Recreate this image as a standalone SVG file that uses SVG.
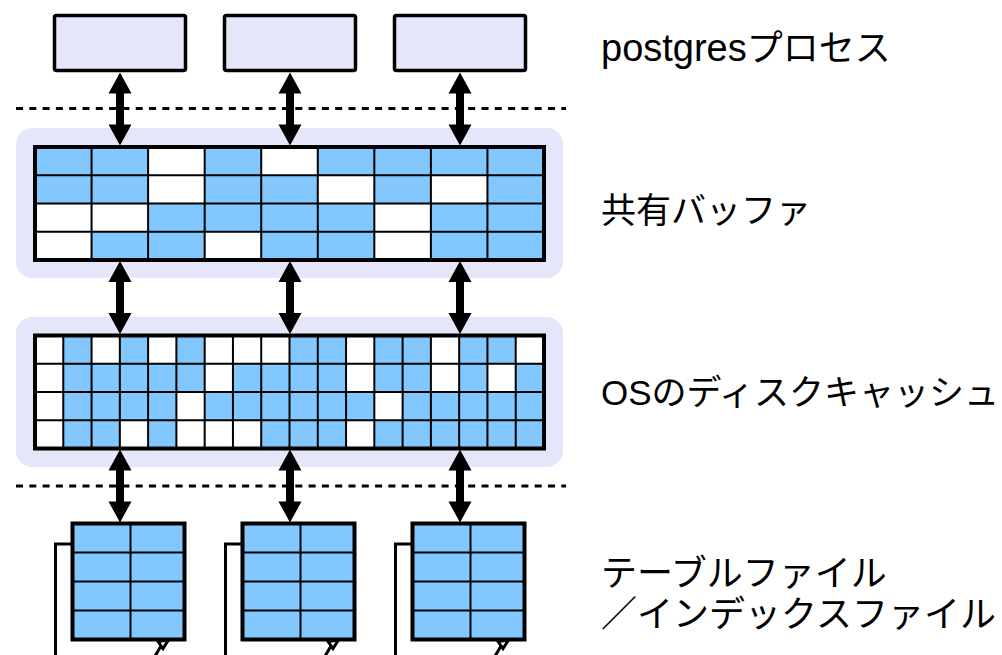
<svg xmlns="http://www.w3.org/2000/svg" width="1002" height="655" viewBox="0 0 1002 655">
<style>
.proc{fill:#E6E6FA;stroke:#000;stroke-width:3.5}
.bg{fill:#E6E6FA}
.blue{fill:#82C8FF}
.cellw{fill:#fff}
.inner{fill:none;stroke:#000;stroke-width:2}
.outer{fill:none;stroke:#000;stroke-width:4}
.dash{fill:none;stroke:#000;stroke-width:3;stroke-dasharray:7 6.3}
.back{fill:none;stroke:#000;stroke-width:3}
.arrow{fill:#000}
.label{font-family:"Liberation Sans","Noto Sans CJK JP",sans-serif;font-size:35px;fill:#000}
</style>
<defs>
<path id="dbl" d="M0,0 L11.5,21 L4,21 L4,52 L11.5,52 L0,73 L-11.5,52 L-4,52 L-4,21 L-11.5,21 Z"/>
<g id="filegrid">
<rect x="0" y="0" width="112" height="116" class="blue"/>
<path class="inner" d="M58,0 V116 M0,29 H112 M0,58 H112 M0,87 H112"/>
<rect x="0" y="0" width="112" height="116" class="outer"/>
</g>
</defs>

<g id="dashed-lines">
<line x1="16" y1="108.5" x2="566" y2="108.5" class="dash"/>
<line x1="16" y1="486" x2="566" y2="486" class="dash"/>
</g>

<g id="process-1"><rect x="54.5" y="15.5" width="131" height="55" rx="2" class="proc"/></g>
<g id="process-2"><rect x="224.5" y="15.5" width="131" height="55" rx="2" class="proc"/></g>
<g id="process-3"><rect x="394.5" y="15.5" width="131" height="55" rx="2" class="proc"/></g>

<g id="shared-buffer">
<rect x="16" y="128" width="547" height="150" rx="16" class="bg"/>
<rect x="35" y="147" width="509" height="113" class="cellw"/>
<g class="blue">
<rect x="35" y="147" width="113.11" height="28.25"/>
<rect x="204.67" y="147" width="56.56" height="28.25"/>
<rect x="317.78" y="147" width="226.22" height="28.25"/>
<rect x="35" y="175.25" width="113.11" height="28.25"/>
<rect x="204.67" y="175.25" width="113.11" height="28.25"/>
<rect x="374.33" y="175.25" width="56.56" height="28.25"/>
<rect x="487.44" y="175.25" width="56.56" height="28.25"/>
<rect x="148.11" y="203.5" width="226.22" height="28.25"/>
<rect x="430.89" y="203.5" width="113.11" height="28.25"/>
<rect x="91.56" y="231.75" width="113.11" height="28.25"/>
<rect x="261.22" y="231.75" width="113.11" height="28.25"/>
<rect x="430.89" y="231.75" width="113.11" height="28.25"/>
</g>
<path class="inner" d="M91.56,147 V260 M148.11,147 V260 M204.67,147 V260 M261.22,147 V260 M317.78,147 V260 M374.33,147 V260 M430.89,147 V260 M487.44,147 V260 M35,175.25 H544 M35,203.5 H544 M35,231.75 H544"/>
<rect x="35" y="147" width="509" height="113" class="outer"/>
</g>

<g id="os-cache">
<rect x="16" y="317" width="547" height="150" rx="16" class="bg"/>
<rect x="35" y="335.5" width="509" height="113" class="cellw"/>
<g class="blue">
<rect x="63.28" y="335.5" width="28.28" height="28.25"/>
<rect x="119.83" y="335.5" width="28.28" height="28.25"/>
<rect x="176.39" y="335.5" width="28.28" height="28.25"/>
<rect x="289.5" y="335.5" width="56.56" height="28.25"/>
<rect x="374.33" y="335.5" width="56.56" height="28.25"/>
<rect x="459.17" y="335.5" width="56.56" height="28.25"/>
<rect x="63.28" y="363.75" width="141.39" height="28.25"/>
<rect x="232.94" y="363.75" width="113.11" height="28.25"/>
<rect x="374.33" y="363.75" width="56.56" height="28.25"/>
<rect x="459.17" y="363.75" width="28.28" height="28.25"/>
<rect x="515.72" y="363.75" width="28.28" height="28.25"/>
<rect x="63.28" y="392" width="113.11" height="28.25"/>
<rect x="204.67" y="392" width="169.67" height="28.25"/>
<rect x="402.61" y="392" width="141.39" height="28.25"/>
<rect x="63.28" y="420.25" width="56.56" height="28.25"/>
<rect x="148.11" y="420.25" width="28.28" height="28.25"/>
<rect x="261.22" y="420.25" width="84.83" height="28.25"/>
<rect x="374.33" y="420.25" width="169.67" height="28.25"/>
</g>
<path class="inner" d="M63.28,335.5 V448.5 M91.56,335.5 V448.5 M119.83,335.5 V448.5 M148.11,335.5 V448.5 M176.39,335.5 V448.5 M204.67,335.5 V448.5 M232.94,335.5 V448.5 M261.22,335.5 V448.5 M289.5,335.5 V448.5 M317.78,335.5 V448.5 M346.06,335.5 V448.5 M374.33,335.5 V448.5 M402.61,335.5 V448.5 M430.89,335.5 V448.5 M459.17,335.5 V448.5 M487.44,335.5 V448.5 M515.72,335.5 V448.5 M35,363.75 H544 M35,392 H544 M35,420.25 H544"/>
<rect x="35" y="335.5" width="509" height="113" class="outer"/>
</g>

<g id="file-1">
<path class="back" d="M73,544 H55.5 V660"/>
<path class="back" d="M158,641.5 L168.5,640 L163,648.5 Z M161,646 L154.5,657"/>
<use href="#filegrid" x="72.5" y="523.5"/>
</g>
<g id="file-2">
<path class="back" d="M243,544 H225.5 V660"/>
<path class="back" d="M328,641.5 L338.5,640 L333,648.5 Z M331,646 L324.5,657"/>
<use href="#filegrid" x="242.5" y="523.5"/>
</g>
<g id="file-3">
<path class="back" d="M413,544 H395.5 V660"/>
<path class="back" d="M498,641.5 L508.5,640 L503,648.5 Z M501,646 L494.5,657"/>
<use href="#filegrid" x="412.5" y="523.5"/>
</g>

<g id="connectors" class="arrow">
<use href="#dbl" x="120" y="72.5"/>
<use href="#dbl" x="290" y="72.5"/>
<use href="#dbl" x="460" y="72.5"/>
<use href="#dbl" x="120" y="261"/>
<use href="#dbl" x="290" y="261"/>
<use href="#dbl" x="460" y="261"/>
<use href="#dbl" x="120" y="449.5"/>
<use href="#dbl" x="290" y="449.5"/>
<use href="#dbl" x="460" y="449.5"/>
</g>

<g id="labels" class="label">
<text x="601" y="61"><tspan font-size="38">postgres</tspan><tspan font-size="36">プロセス</tspan></text>
<text x="601" y="223">共有バッファ</text>
<text x="601" y="405">OSのディスクキャッシュ</text>
<text x="601" y="586" font-size="36">テーブルファイル</text>
<text x="601" y="627" font-size="36">／インデックスファイル</text>
</g>
</svg>
